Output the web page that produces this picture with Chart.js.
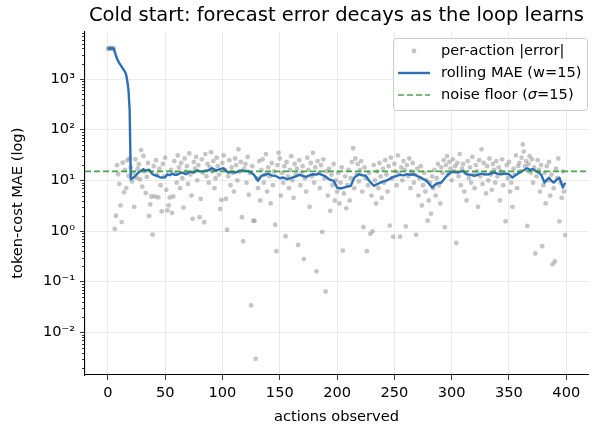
<!DOCTYPE html>
<html>
<head>
<meta charset="utf-8">
<script src="https://cdn.jsdelivr.net/npm/chart.js@4/dist/chart.umd.min.js"></script>
<style>
  html, body { margin: 0; padding: 0; background: #fff; }
</style>
</head>
<body>
<canvas id="chart" width="592" height="429"></canvas>
<script>

// per-action |error|, one value per action (index = action number)
var errors = [
  3950, 4050, 4000, 4100, 3950, 4000, 1.1, 2.0, 19.9, 13.2, 8.5, 3.2, 1.5, 22.3, 5.8, 16, 7.0, 24.9, 12.3, 27,
  18, 9.5, 14, 3.0, 26, 11.3, 17, 20.8, 10.5, 39.5, 7.5, 30.2, 15, 5.6, 11.7, 22, 1.98, 3.35, 4.8, 0.85,
  19, 4.8, 25, 13, 4.6, 17, 8, 2.45, 21, 12, 28, 6.5, 2.55, 3.2, 4.6, 16, 2.27, 4.8, 24, 14,
  9, 31, 18, 7, 22, 11, 2.9, 27, 15, 19, 8.5, 34, 13, 5.0, 1.74, 23, 17, 29, 10, 20,
  1.87, 4.3, 26, 14, 1.49, 33, 12, 21, 9, 18, 36, 15, 24, 7, 11, 28, 19, 13, 2.72, 4.1,
  22, 31, 16, 4.3, 1.06, 12, 25, 8, 18, 14, 6, 27, 20, 10, 41, 15, 23, 1.87, 0.63, 17,
  21, 9, 29, 5.2, 14, 0.034, 19, 1.6, 1.58, 0.003, 11, 7, 24, 4, 16, 26, 9, 13, 33, 6,
  18, 12, 3.5, 22, 8, 15, 1.33, 0.40, 20, 35, 27, 5, 14, 9, 19, 0.79, 23, 12, 7, 16,
  30, 10, 4.5, 21, 13, 17, 0.53, 25, 8, 14, 19, 0.28, 11, 6, 28, 16, 3, 22, 12, 35,
  9, 18, 0.16, 24, 14, 7, 20, 0.96, 26, 11, 0.064, 15, 5, 17, 2.5, 13, 8, 21, 4, 10,
  6, 14, 3.5, 9, 18, 0.41, 5.5, 12, 2.8, 8, 16, 4, 11, 23, 43, 7, 27, 13, 21, 9.5,
  16, 24, 6, 1.19, 18, 11, 0.40, 8, 14, 0.88, 5, 0.98, 20, 10, 3.5, 15, 7, 22, 12, 4.5,
  17, 9, 25, 13, 6, 19, 1.28, 28, 11, 0.77, 21, 15, 8, 31, 14, 0.77, 18, 10, 24, 16,
  1.23, 20, 12, 27, 7, 15, 22, 9, 13, 0.84, 17, 5, 11, 19, 3.2, 8, 14, 6, 10, 1.6,
  4, 9, 2.2, 12, 7, 16, 5, 11, 21, 8, 3.5, 18, 14, 25, 1.19, 20, 30, 13, 23, 17,
  10, 26, 15, 19, 0.58, 22, 12, 33, 8, 17, 21, 6, 14, 4, 24, 11, 18, 9, 29, 13,
  7, 20, 15, 3, 25, 12, 41, 8.5, 22, 14, 5.5, 19, 10, 27, 13, 6.5, 21, 16, 9, 24,
  12, 18, 4, 15, 26, 8, 14, 1.55, 20, 11, 23, 6, 9, 3, 17, 13, 31, 7, 19, 22,
  15, 28, 51, 37, 19, 24, 1.26, 21, 30, 14, 26, 9, 18, 0.36, 12, 25, 16, 6, 20, 0.5,
  8, 14, 3.5, 19, 10, 23, 5, 13, 0.22, 7, 0.25, 17, 11, 27, 1.55, 9, 4.5, 15, 6, 0.83
];

// rolling MAE (w=15)
var maeActions = [
  0, 1, 3, 5, 6, 8, 10, 12, 14, 15, 16, 17, 18, 19, 20, 22, 24, 27, 31, 33, 36, 39,
  41, 43, 45, 47, 50, 52, 54, 56, 58, 60, 63, 65, 68, 70, 72, 75, 78, 80, 82, 85, 88, 91, 93, 95, 98, 101, 105, 108, 111, 114, 117, 120, 122, 125, 127,
  129, 131, 134, 137, 140, 143, 146, 150, 153, 156, 159, 161, 164, 167, 170, 173, 176, 179, 182, 184, 187, 189, 193, 197, 200, 203, 206, 209, 212, 215, 219, 222, 225,
  228, 232, 235, 238, 241, 244, 249, 252, 255, 258, 261, 264, 267, 270, 273, 278, 283, 285, 287, 291, 294, 297, 301, 305, 308, 310, 313, 317, 320, 323, 326,
  329, 332, 335, 337, 340, 343, 347, 350, 353, 356, 359, 362, 366, 368, 371, 374, 376, 378, 381, 383, 385, 387, 389, 392, 394, 397, 399
];
var maeValues = [
  3950, 4000, 4025, 4010, 3450, 2500, 2050, 1750, 1500, 1380, 1200, 900, 600, 250, 10.5, 11.2, 12.3, 14.5, 16.6, 15.6, 16.2, 13.2,
  12.6, 12.3, 11.6, 11.3, 11.5, 13.2, 12.6, 13.6, 12.9, 12.8, 13.8, 14.2, 13.2, 14.0, 14.9, 14.3, 15.8, 15.0, 14.9, 15.5, 15.8, 17.3, 16.2, 15.8, 16.6, 17.3, 14.2, 14.8, 14.2, 15.0, 15.8, 15.0, 15.4, 14.2, 13.2,
  11.5, 9.8, 12.3, 12.9, 13.6, 12.5, 12.3, 11.0, 11.4, 10.5, 10.9, 11.3, 12.0, 12.8, 12.2, 11.7, 12.6, 13.2, 13.0, 13.6, 12.8, 12.3, 10.5, 9.8, 7.2, 6.9, 7.2, 7.5, 7.8, 11.3, 13.2, 12.6, 12.3,
  9.8, 7.8, 8.4, 9.05, 9.6, 10.1, 11.7, 12.2, 12.8, 12.5, 13.2, 12.9, 13.2, 12.2, 11.3, 9.8, 7.2, 8.0, 8.65, 9.05, 11.0, 13.2, 14.9, 14.3, 14.9, 15.4, 13.2, 12.8, 12.3, 13.0, 13.6,
  13.0, 13.2, 13.8, 14.2, 13.6, 13.2, 13.6, 13.2, 11.3, 12.8, 14.2, 15.5, 17.3, 16.2, 16.6, 15.0, 14.2, 13.0, 9.05, 10.2, 11.3, 9.8, 9.05, 10.5, 11.3, 7.2, 9.0
];

var noiseFloor = 15;

var xTicks = [ 0, 50, 100, 150, 200, 250, 300, 350, 400 ];
var yTicks = [ 0.01, 0.1, 1, 10, 100, 1000 ];
var yTickLabels = [ '10\u207B\u00B2', '10\u207B\u00B9', '10\u2070', '10\u00B9', '10\u00B2', '10\u00B3' ];

var legendLabels = [ 'per-action |error|', 'rolling MAE (w=15)', 'noise floor (|\u03C3|=15)' ];

( function() {

  var FONT = 'DejaVu Sans';
  var GRAY = 'rgba(140,140,140,0.5)';
  var BLUE = '#2b6fb6';
  var GREEN = 'rgba(44,150,44,0.85)';

  var scatterData = errors.map( function( e, i ) {
    return { x: i, y: e };
  } );

  var maeData = maeActions.map( function( a, i ) {
    return { x: a, y: maeValues[ i ] };
  } );

  var noiseFloorPlugin = {
    id: 'noiseFloor',
    afterDatasetsDraw: function( chart ) {
      var area = chart.chartArea;
      var y = chart.scales.y.getPixelForValue( noiseFloor );
      var ctx = chart.ctx;
      ctx.save();
      ctx.strokeStyle = GREEN;
      ctx.lineWidth = 1.6;
      ctx.setLineDash( [ 6, 3 ] );
      ctx.beginPath();
      ctx.moveTo( area.left, y );
      ctx.lineTo( area.right, y );
      ctx.stroke();
      ctx.restore();
    }
  };

  // matplotlib-style minor ticks on the log axis
  var minorTicksPlugin = {
    id: 'minorTicks',
    afterDraw: function( chart ) {
      var s = chart.scales.y;
      var ctx = chart.ctx;
      ctx.save();
      ctx.strokeStyle = '#000';
      ctx.lineWidth = 0.8;
      for ( var p = -3; p <= 3; p++ ) {
        for ( var m = 2; m <= 9; m++ ) {
          var v = m * Math.pow( 10, p );
          if ( v < s.min || v > s.max ) continue;
          var y = Math.round( s.getPixelForValue( v ) ) + 0.5;
          ctx.beginPath();
          ctx.moveTo( s.right - 3, y );
          ctx.lineTo( s.right, y );
          ctx.stroke();
        }
      }
      ctx.restore();
    }
  };

  // draws text where parts between '|' ... '|' are italic (for sigma)
  var drawMixed = function( ctx, text, x, y, size ) {
    var parts = text.split( /(\|\u03C3\|)/ );
    parts.forEach( function( p ) {
      if ( p === '|\u03C3|' ) {
        ctx.font = 'italic ' + size + 'px "' + FONT + '"';
        p = '\u03C3';
      } else {
        ctx.font = size + 'px "' + FONT + '"';
      }
      ctx.fillText( p, x, y );
      x += ctx.measureText( p ).width;
    } );
  };

  var legendPlugin = {
    id: 'boxLegend',
    afterDraw: function( chart ) {
      var ctx = chart.ctx;
      var x0 = 393, y0 = 38, w = 194, h = 72, r = 3;
      ctx.save();
      ctx.beginPath();
      ctx.roundRect( x0 + 0.5, y0 + 0.5, w, h, r );
      ctx.fillStyle = 'rgba(255,255,255,0.8)';
      ctx.fill();
      ctx.strokeStyle = '#cccccc';
      ctx.lineWidth = 1;
      ctx.stroke();

      var rows = [ 51, 73, 95 ];

      ctx.fillStyle = GRAY;
      ctx.beginPath();
      ctx.arc( 414, rows[ 0 ], 2.4, 0, Math.PI * 2 );
      ctx.fill();

      ctx.strokeStyle = BLUE;
      ctx.lineWidth = 2.4;
      ctx.beginPath();
      ctx.moveTo( 398, rows[ 1 ] );
      ctx.lineTo( 430, rows[ 1 ] );
      ctx.stroke();

      ctx.strokeStyle = GREEN;
      ctx.lineWidth = 1.6;
      ctx.setLineDash( [ 6, 3 ] );
      ctx.beginPath();
      ctx.moveTo( 398, rows[ 2 ] );
      ctx.lineTo( 430, rows[ 2 ] );
      ctx.stroke();
      ctx.setLineDash( [] );

      ctx.fillStyle = '#000';
      ctx.textBaseline = 'middle';
      legendLabels.forEach( function( t, i ) {
        drawMixed( ctx, t, 441, rows[ i ], 14.6 );
      } );
      ctx.restore();
    }
  };

  var config = {
    data: {
      datasets: [
        {
          type: 'scatter',
          data: scatterData,
          backgroundColor: GRAY,
          borderWidth: 0,
          pointRadius: 2.4,
          order: 2
        },
        {
          type: 'line',
          data: maeData,
          borderColor: BLUE,
          borderWidth: 2.4,
          pointRadius: 0,
          tension: 0,
          fill: false,
          borderJoinStyle: 'round',
          order: 1
        }
      ]
    },
    options: {
      responsive: false,
      animation: false,
      layout: { padding: 0 },
      plugins: {
        legend: { display: false },
        tooltip: { enabled: false },
        title: {
          display: true,
          fullSize: false,
          text: 'Cold start: forecast error decays as the loop learns',
          color: '#000',
          font: { family: FONT, size: 19.5, weight: 'normal' },
          padding: { top: 4, bottom: 4 }
        }
      },
      scales: {
        x: {
          type: 'linear',
          min: -19.95,
          max: 418.95,
          afterBuildTicks: function( s ) {
            s.ticks = xTicks.map( function( v ) { return { value: v }; } );
          },
          afterFit: function( s ) { s.height = 54; },
          grid: { color: '#e4e4e4', lineWidth: 0.8, tickLength: 5, tickColor: '#000' },
          border: { display: true, color: '#000', width: 1.1 },
          ticks: {
            color: '#000',
            padding: 4,
            maxRotation: 0,
            font: { family: FONT, size: 14.6 }
          },
          title: {
            display: true,
            text: 'actions observed',
            color: '#000',
            font: { family: FONT, size: 14.6 },
            padding: { top: 0, bottom: 3 }
          }
        },
        y: {
          type: 'logarithmic',
          min: 0.00144,
          max: 8700,
          afterBuildTicks: function( s ) {
            s.ticks = yTicks.map( function( v ) { return { value: v }; } );
          },
          afterFit: function( s ) { s.width = 85; },
          grid: { color: '#e4e4e4', lineWidth: 0.8, tickLength: 5, tickColor: '#000' },
          border: { display: true, color: '#000', width: 1.1 },
          ticks: {
            color: '#000',
            padding: 5,
            font: { family: FONT, size: 14.6 },
            callback: function( v ) {
              var i = yTicks.indexOf( v );
              return i >= 0 ? yTickLabels[ i ] : '';
            }
          },
          title: {
            display: true,
            text: 'token-cost MAE (log)',
            color: '#000',
            font: { family: FONT, size: 14.6 },
            padding: { top: 9, bottom: 0 }
          }
        }
      }
    },
    plugins: [ noiseFloorPlugin, minorTicksPlugin, legendPlugin ]
  };

  new Chart( document.getElementById( 'chart' ), config );

} )();
</script>
</body>
</html>
